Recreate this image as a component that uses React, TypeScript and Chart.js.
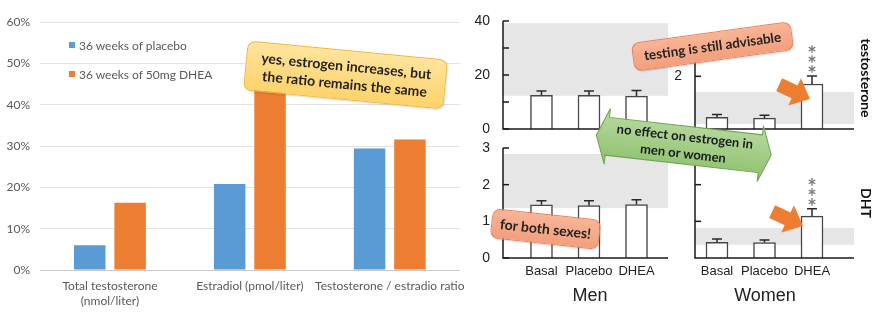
import React, { useEffect, useRef } from 'react';
import { Chart, registerables } from 'chart.js';
Chart.register(...registerables);

// ---------- left chart data ----------
const leftCategories: (string | string[])[] = [
  ['Total testosterone', '(nmol/liter)'],
  'Estradiol (pmol/liter)',
  'Testosterone / estradio ratio',
];
const seriesNames = ['36 weeks of placebo', '36 weeks of 50mg DHEA'];
const placeboChange = [6.0, 20.8, 29.4];
const dheaChange = [16.3, 48.0, 31.6];
const pctTickValues = [0, 10, 20, 30, 40, 50, 60];

// ---------- right panels data ----------
const groupLabels = ['Basal', 'Placebo', 'DHEA'];
const menTestosterone = [12.5, 12.5, 12.2];
const menTestosteroneSE = [1.6, 1.6, 2.1];
const womenTestosterone = [0.44, 0.41, 1.71];
const womenTestosteroneSE = [0.11, 0.11, 0.3];
const menDHT = [1.45, 1.43, 1.46];
const menDHTSE = [0.11, 0.13, 0.13];
const womenDHT = [0.43, 0.42, 1.14];
const womenDHTSE = [0.09, 0.07, 0.2];
const menTestosteroneRange = [12.3, 39.2];
const womenTestosteroneRange = [0.19, 1.41];
const menDHTRange = [1.36, 2.84];
const womenDHTRange = [0.36, 0.82];
const menSignificance = ['', '', ''];
const womenSignificance = ['', '', '***'];

const BLUE = '#5B9BD5';
const ORANGE = '#ED7D31';
const CAL = 'Lato, "Open Sans", sans-serif';
const ARIAL = '"Liberation Sans", Arial, sans-serif';

function LeftChart() {
  const ref = useRef<HTMLCanvasElement>(null);
  useEffect(() => {
    const chart = new Chart(ref.current!, {
      type: 'bar',
      data: {
        labels: leftCategories as any,
        datasets: [
          { label: seriesNames[0], data: placeboChange, backgroundColor: BLUE, categoryPercentage: 0.577, barPercentage: 0.78 },
          { label: seriesNames[1], data: dheaChange, backgroundColor: ORANGE, categoryPercentage: 0.577, barPercentage: 0.78 },
        ],
      },
      options: {
        responsive: false,
        animation: false,
        devicePixelRatio: 1,
        layout: { padding: { top: 22, right: 9, left: 0, bottom: 0 } },
        plugins: { legend: { display: false }, tooltip: { enabled: false } },
        scales: {
          x: {
            grid: { display: false, drawTicks: false },
            border: { display: false },
            ticks: { font: { family: CAL, size: 12, lineHeight: 1.25 }, color: '#595959', padding: 9, autoSkip: false, maxRotation: 0 },
            afterFit: (s: any) => { s.height = 54; },
          },
          y: {
            min: 0,
            max: 60,
            afterBuildTicks: (s: any) => { s.ticks = pctTickValues.map((v) => ({ value: v })); },
            grid: {
              color: (c: any) => (c.tick && c.tick.value === 0 ? '#c8c8c8' : '#e3e3e3'),
              drawTicks: false,
            },
            border: { display: false },
            ticks: { callback: (v: any) => v + '%', font: { family: CAL, size: 12 }, color: '#595959', padding: 10 },
            afterFit: (s: any) => { s.width = 40; },
          },
        },
      },
    });
    return () => chart.destroy();
  }, []);
  return <canvas ref={ref} width={475} height={324} style={{ position: 'absolute', left: 0, top: 0, width: 475, height: 324 }} />;
}

type PanelProps = {
  left: number; top: number; width: number; height: number;
  yMax: number; yTicks: number[]; yLabel: (v: number) => string;
  values: number[]; se: number[]; range: number[]; stars: string[];
  xMin: number; xMax: number; showX: boolean;
};

// chart area = canvas inset by PAD at top (and at bottom when no x labels)
const PAD = 22;

function Panel(p: PanelProps) {
  const ref = useRef<HTMLCanvasElement>(null);
  useEffect(() => {
    const deco = {
      id: 'deco',
      beforeDatasetsDraw(chart: any) {
        const { ctx, chartArea, scales } = chart;
        const y0 = scales.y.getPixelForValue(p.range[0]);
        const y1 = scales.y.getPixelForValue(p.range[1]);
        ctx.save();
        ctx.fillStyle = '#e6e6e6';
        ctx.fillRect(chartArea.left, y1, chartArea.right - chartArea.left, y0 - y1);
        ctx.restore();
      },
      afterDatasetsDraw(chart: any) {
        const { ctx, chartArea, scales } = chart;
        const xs = scales.x, ys = scales.y;
        ctx.save();
        ctx.strokeStyle = '#2a2a2a';
        ctx.lineWidth = 1.5;
        p.values.forEach((v, i) => {
          const x = xs.getPixelForValue(i + 1);
          const yb = ys.getPixelForValue(v);
          const yt = ys.getPixelForValue(v + p.se[i]);
          ctx.beginPath();
          ctx.moveTo(x, yb);
          ctx.lineTo(x, yt);
          ctx.moveTo(x - 5, yt);
          ctx.lineTo(x + 5, yt);
          ctx.stroke();
          const n = p.stars[i].length;
          for (let k = 0; k < n; k++) {
            const cy = yt - 7 - k * 10;
            ctx.save();
            ctx.strokeStyle = '#7a7a7a';
            ctx.lineWidth = 1.3;
            for (let a = 0; a < 3; a++) {
              const ang = Math.PI / 2 + (a * Math.PI) / 3;
              ctx.beginPath();
              ctx.moveTo(x - 3.8 * Math.cos(ang), cy - 3.8 * Math.sin(ang));
              ctx.lineTo(x + 3.8 * Math.cos(ang), cy + 3.8 * Math.sin(ang));
              ctx.stroke();
            }
            ctx.restore();
          }
        });
        // axes
        ctx.strokeStyle = '#1a1a1a';
        ctx.lineWidth = 1.5;
        ctx.beginPath();
        ctx.moveTo(chartArea.left, ys.getPixelForValue(p.yMax));
        ctx.lineTo(chartArea.left, chartArea.bottom);
        ctx.lineTo(chartArea.right, chartArea.bottom);
        ctx.stroke();
        p.yTicks.forEach((t) => {
          const y = ys.getPixelForValue(t);
          ctx.beginPath();
          ctx.moveTo(chartArea.left, y);
          ctx.lineTo(chartArea.left + 6, y);
          ctx.stroke();
        });
        ctx.restore();
      },
    };
    const chart = new Chart(ref.current!, {
      type: 'bar',
      data: {
        datasets: [{
          data: p.values.map((v, i) => ({ x: i + 1, y: v })),
          backgroundColor: '#ffffff',
          borderColor: '#474747',
          borderWidth: 1.5,
          barThickness: 22,
        }],
      },
      options: {
        responsive: false,
        animation: false,
        devicePixelRatio: 1,
        layout: { padding: { top: PAD, right: 5, bottom: p.showX ? 0 : PAD, left: 0 } },
        plugins: { legend: { display: false }, tooltip: { enabled: false } },
        scales: {
          x: {
            type: 'linear',
            offset: false,
            min: p.xMin,
            max: p.xMax,
            display: p.showX,
            grid: { display: false, drawTicks: false, offset: false },
            border: { display: false },
            afterBuildTicks: (s: any) => { s.ticks = groupLabels.map((_, i) => ({ value: i + 1 })); },
            ticks: {
              callback: (v: any) => groupLabels[Math.round(v) - 1] ?? '',
              font: { family: ARIAL, size: 13 }, color: '#222', padding: 6, autoSkip: false, maxRotation: 0,
            },
            afterFit: (s: any) => { if (p.showX) s.height = 22; },
          },
          y: {
            min: 0,
            max: p.yMax,
            grid: { display: false, drawTicks: false },
            border: { display: false },
            afterBuildTicks: (s: any) => { s.ticks = p.yTicks.map((v) => ({ value: v })); },
            ticks: { callback: (v: any) => p.yLabel(v), font: { family: ARIAL, size: 14 }, color: '#222', padding: 13 },
            afterFit: (s: any) => { s.width = 30; },
          },
        },
      },
      plugins: [deco],
    } as any);
    return () => chart.destroy();
  }, []);
  return <canvas ref={ref} width={p.width} height={p.height} style={{ position: 'absolute', left: p.left, top: p.top, width: p.width, height: p.height }} />;
}

function Callout(props: { cx: number; cy: number; w: number; h: number; rot: number; bg: string; border: string; size: number; lines: string[] }) {
  const { cx, cy, w, h, rot, bg, border, size, lines } = props;
  return (
    <div style={{
      position: 'absolute', left: cx - w / 2, top: cy - h / 2, width: w, height: h, boxSizing: 'border-box',
      transform: `rotate(${rot}deg)`, background: bg, border: `1px solid ${border}`, borderRadius: 8,
      display: 'flex', flexDirection: 'column', alignItems: 'center', justifyContent: 'center',
      fontFamily: CAL, fontWeight: 700, fontSize: size, lineHeight: 1.3, color: '#222', whiteSpace: 'nowrap',
      boxShadow: '1px 1px 2px rgba(0,0,0,0.15)',
    }}>
      {lines.map((l, i) => <div key={i}>{l}</div>)}
    </div>
  );
}

function orangeArrow(tx: number, ty: number, ang: number) {
  const pts = '-34,-7 -17,-7 -17,-15 0,0 -17,15 -17,7 -34,7';
  return <polygon points={pts} fill={ORANGE} transform={`translate(${tx},${ty}) rotate(${ang})`} />;
}

export default function App() {
  const menX = { xMin: 0.19, xMax: 3.663 };
  const womenX = { xMin: 0.537, xMax: 3.884 };
  return (
    <div style={{ position: 'absolute', left: 0, top: 0, width: 879, height: 324, overflow: 'hidden', background: '#fff' }}>
      <LeftChart />
      {/* legend */}
      {seriesNames.map((n, i) => (
        <div key={n} style={{ position: 'absolute', left: 69, top: 36 + i * 29, height: 18, display: 'flex', alignItems: 'center', fontFamily: CAL, fontSize: 12, color: '#595959', whiteSpace: 'nowrap' }}>
          <span style={{ display: 'inline-block', width: 6, height: 6, background: i === 0 ? BLUE : ORANGE, marginRight: 4 }} />
          {n}
        </div>
      ))}

      {/* men testosterone: area x 503-668, y 21-129 */}
      <Panel left={473} top={21 - PAD} width={200} height={129 + PAD - (21 - PAD)} yMax={40} yTicks={[0, 10, 20, 30, 40]}
        yLabel={(v) => (v % 20 === 0 ? String(v) : '')} values={menTestosterone} se={menTestosteroneSE}
        range={menTestosteroneRange} stars={menSignificance} {...menX} showX={false} />
      {/* women testosterone: area x 695-854, y 50-129 */}
      <Panel left={665} top={50 - PAD} width={194} height={129 + PAD - (50 - PAD)} yMax={3} yTicks={[0, 2]}
        yLabel={(v) => (v === 2 ? '2' : '')} values={womenTestosterone} se={womenTestosteroneSE}
        range={womenTestosteroneRange} stars={womenSignificance} {...womenX} showX={false} />
      {/* men DHT: area x 503-668, y 148-258 */}
      <Panel left={473} top={148 - PAD} width={200} height={258 + 22 - (148 - PAD)} yMax={3} yTicks={[0, 1, 2, 3]}
        yLabel={(v) => String(v)} values={menDHT} se={menDHTSE}
        range={menDHTRange} stars={menSignificance} {...menX} showX={true} />
      {/* women DHT: area x 695-854, y 148-258 */}
      <Panel left={665} top={148 - PAD} width={194} height={258 + 22 - (148 - PAD)} yMax={3} yTicks={[1, 2, 3]}
        yLabel={() => ''} values={womenDHT} se={womenDHTSE}
        range={womenDHTRange} stars={womenSignificance} {...womenX} showX={true} />

      <div style={{ position: 'absolute', left: 540, top: 285, width: 100, textAlign: 'center', fontFamily: ARIAL, fontSize: 18, color: '#222' }}>Men</div>
      <div style={{ position: 'absolute', left: 715, top: 285, width: 100, textAlign: 'center', fontFamily: ARIAL, fontSize: 18, color: '#222' }}>Women</div>

      <div style={{ position: 'absolute', left: 866 - 50, top: 78 - 10, width: 100, height: 20, lineHeight: '20px', textAlign: 'center', transform: 'rotate(90deg)', fontFamily: CAL, fontWeight: 700, fontSize: 14, color: '#111' }}>testosterone</div>
      <div style={{ position: 'absolute', left: 866 - 50, top: 203 - 10, width: 100, height: 20, lineHeight: '20px', textAlign: 'center', transform: 'rotate(90deg)', fontFamily: CAL, fontWeight: 700, fontSize: 14, color: '#111' }}>DHT</div>

      <svg width={879} height={324} style={{ position: 'absolute', left: 0, top: 0 }}>
        {orangeArrow(810, 99, 25)}
        {orangeArrow(803, 226, 25)}
        <defs>
          <linearGradient id="gg" x1="0" y1="0" x2="0" y2="1">
            <stop offset="0" stopColor="#b9dba2" />
            <stop offset="1" stopColor="#8dc06c" />
          </linearGradient>
        </defs>
        <g transform="translate(683.8,145) rotate(6.5)">
          <polygon points="-88,0 -77,-28 -77,-19 77,-19 77,-28 88,0 77,28 77,19 -77,19 -77,28" fill="url(#gg)" stroke="#6fa24e" strokeWidth={1} />
        </g>
      </svg>
      <div style={{ position: 'absolute', left: 683.8 - 80, top: 145 - 19, width: 160, height: 38, transform: 'rotate(6.5deg)', display: 'flex', flexDirection: 'column', alignItems: 'center', justifyContent: 'center', fontFamily: CAL, fontWeight: 700, fontSize: 13, lineHeight: 1.3, color: '#1a1a1a', whiteSpace: 'nowrap' }}>
        <div>no effect on estrogen in</div>
        <div>men or women</div>
      </div>

      <Callout cx={345} cy={74.7} w={201} h={50} rot={5.5} bg="linear-gradient(180deg,#ffe49c,#fdd36b)" border="#f0b53c" size={14} lines={['yes, estrogen increases, but', 'the ratio remains the same']} />
      <Callout cx={712} cy={46} w={161} h={29} rot={-7.8} bg="linear-gradient(180deg,#f8b497,#f29f7c)" border="#e4825c" size={13.5} lines={['testing is still advisable']} />
      <Callout cx={545.8} cy={229.2} w={109} h={30} rot={6.2} bg="linear-gradient(180deg,#f8b497,#f29f7c)" border="#e4825c" size={14} lines={['for both sexes!']} />
    </div>
  );
}
